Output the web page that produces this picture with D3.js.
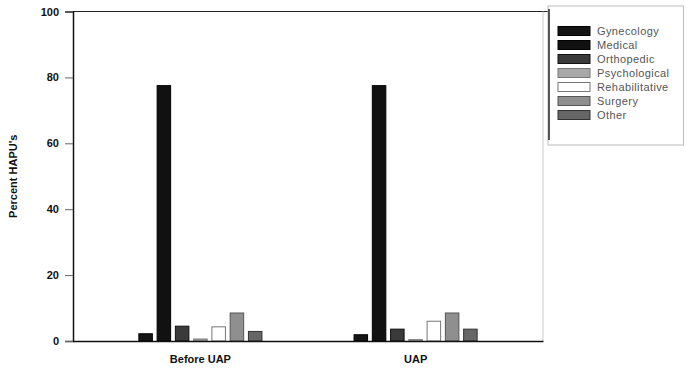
<!DOCTYPE html>
<html><head><meta charset="utf-8">
<script src="https://cdn.jsdelivr.net/npm/d3@7"></script>
<style>body{margin:0;background:#fff}svg{display:block}text{font-family:"Liberation Sans",Arial,sans-serif}</style>
</head><body><svg id="c" width="687" height="373"></svg>
<script>
const groups = ["Before UAP", "UAP"];
const series = ["Gynecology", "Medical", "Orthopedic", "Psychological", "Rehabilitative", "Surgery", "Other"];
const beforeValues = [2.2, 77.5, 4.5, 0.6, 4.3, 8.5, 2.9];
const uapValues = [1.9, 77.5, 3.6, 0.4, 6.0, 8.5, 3.6];
const yTicks = [0, 20, 40, 60, 80, 100];
const colors = ["#151515", "#111111", "#3a3a3a", "#a8a8a8", "#ffffff", "#8f8f8f", "#666666"];
const strokes = ["#000", "#000", "#111", "#777", "#777", "#555", "#333"];

const data = groups.map((g, i) => ({group: g, values: (i === 0 ? beforeValues : uapValues)}));

const svg = d3.select("#c");
const mLeft = 73, mRight = 543, mTop = 11.5, mBottom = 341;

const x0 = d3.scaleBand().domain(groups).range([mLeft, mRight]).paddingInner(0.406).paddingOuter(0.295);
const x1 = d3.scaleBand().domain(series).range([0, x0.bandwidth()]).paddingInner(0.26).paddingOuter(0.13);
const y = d3.scaleLinear().domain([0, 100]).range([mBottom, mTop]);

// frame
svg.append("line").attr("x1", mLeft).attr("x2", 548).attr("y1", mTop).attr("y2", mTop).attr("stroke", "#222").attr("stroke-width", 1.2);
svg.append("line").attr("x1", mRight).attr("x2", mRight).attr("y1", mTop).attr("y2", mBottom).attr("stroke", "#ccc").attr("stroke-width", 1);

// bars
const g = svg.append("g");
data.forEach(d => {
  g.selectAll(null).data(d.values).enter().append("rect")
    .attr("x", (v, i) => x0(d.group) + x1(series[i]))
    .attr("y", v => y(v))
    .attr("width", x1.bandwidth())
    .attr("height", v => y(0) - y(v))
    .attr("fill", (v, i) => colors[i])
    .attr("stroke", (v, i) => strokes[i])
    .attr("stroke-width", 1);
});

// y axis
const ya = svg.append("g").attr("transform", `translate(${mLeft},0)`)
  .call(d3.axisLeft(y).tickValues(yTicks).tickSize(8).tickPadding(6));
ya.select(".domain").attr("stroke", "#111").attr("stroke-width", 1.5);
ya.selectAll(".tick line").attr("stroke", "#666");
ya.selectAll("text").attr("font-size", 11).attr("font-weight", "bold").attr("fill", "#111");

// x axis
const xa = svg.append("g").attr("transform", `translate(0,${mBottom})`)
  .call(d3.axisBottom(x0).tickSize(0).tickPadding(14));
xa.select(".domain").attr("stroke", "#111").attr("stroke-width", 1.5);
xa.selectAll("text").attr("font-size", 11).attr("font-weight", "bold").attr("fill", "#111");

// y title
svg.append("text").attr("transform", `translate(17,${(mTop + mBottom) / 2}) rotate(-90)`)
  .attr("text-anchor", "middle").attr("font-size", 11).attr("font-weight", "bold").attr("fill", "#111")
  .text("Percent HAPU's");

// legend
const lg = svg.append("g");
lg.append("rect").attr("x", 548).attr("y", 6).attr("width", 135.5).attr("height", 139)
  .attr("fill", "#fff").attr("stroke", "#bbb").attr("stroke-width", 1);
lg.append("line").attr("x1", 549).attr("x2", 549).attr("y1", 9).attr("y2", 140).attr("stroke", "#222").attr("stroke-width", 1.5);
const ly = d3.scalePoint().domain(series).range([31, 115]);
series.forEach((s, i) => {
  lg.append("rect").attr("x", 558).attr("y", ly(s) - 4.5).attr("width", 32).attr("height", 9)
    .attr("fill", colors[i]).attr("stroke", strokes[i]).attr("stroke-width", 1);
  lg.append("text").attr("x", 597).attr("y", ly(s) + 4).attr("font-size", 11).attr("letter-spacing", 0.4).attr("fill", "#555").text(s);
});
</script></body></html>
